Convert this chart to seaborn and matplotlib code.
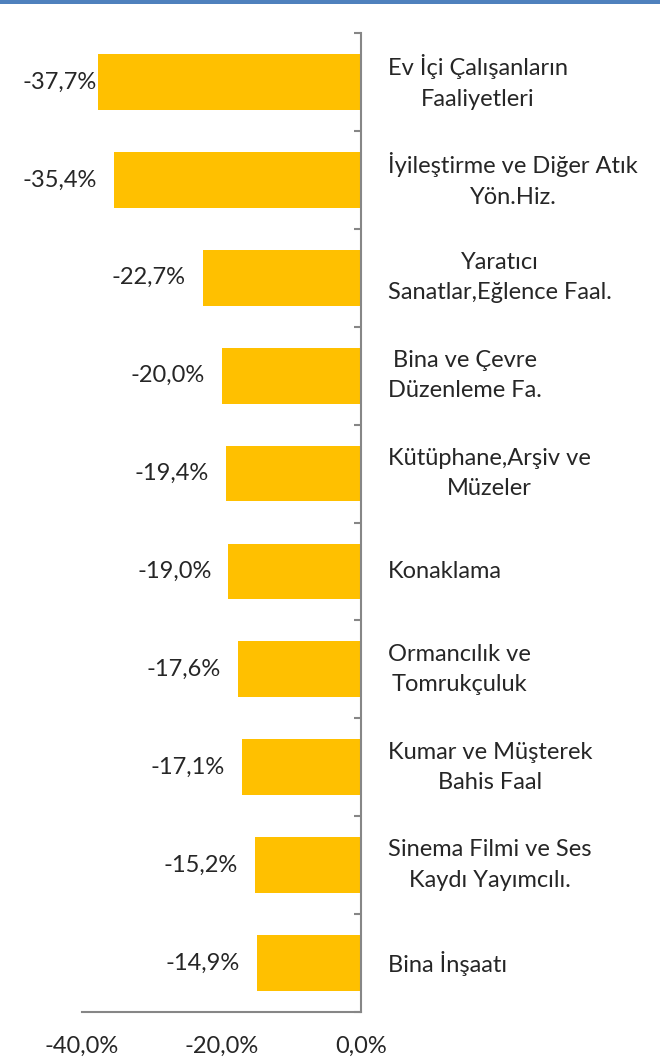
import numpy as np
import pandas as pd
import seaborn as sns
import matplotlib.pyplot as plt
from matplotlib.patches import Rectangle

# Sector names (multi-line as in the original chart) and annual change in %
categories = [
    "Ev İçi Çalışanların\nFaaliyetleri",
    "İyileştirme ve Diğer Atık\nYön.Hiz.",
    "Yaratıcı\nSanatlar,Eğlence Faal.",
    "Bina ve Çevre\nDüzenleme Fa.",
    "Kütüphane,Arşiv ve\nMüzeler",
    "Konaklama",
    "Ormancılık ve\nTomrukçuluk",
    "Kumar ve Müşterek\nBahis Faal",
    "Sinema Filmi ve Ses\nKaydı Yayımcılı.",
    "Bina İnşaatı",
]
values = [-37.7, -35.4, -22.7, -20.0, -19.4, -19.0, -17.6, -17.1, -15.2, -14.9]
xticks = [-40, -20, 0]

BAR = "#FFC000"
AXIS = "#868686"
FONT = 17

sns.set_style("white")
plt.rcParams["font.family"] = ["Lato", "DejaVu Sans"]

df = pd.DataFrame({"sector": categories, "change": values})

fig = plt.figure(figsize=(6.6, 10.61), dpi=100)
W, H = 660, 1061
ax = fig.add_axes([82 / W, (H - 1012) / H, 279 / W, 979 / H])

sns.barplot(data=df, y="sector", x="change", orient="h", color=BAR,
            width=0.57, linewidth=0, saturation=1, ax=ax)

n = len(categories)
ax.set_xlim(-40, 0)
ax.set_ylim(n - 0.5, -0.5)

# spines: only the zero line (right) and the bottom line
for s in ["left", "top"]:
    ax.spines[s].set_visible(False)
for s in ["right", "bottom"]:
    ax.spines[s].set_color(AXIS)
    ax.spines[s].set_linewidth(1.5)

# category boundary ticks on the zero line
ax.yaxis.tick_right()
ax.set_yticks(np.arange(-0.5, n, 1.0))
ax.set_yticklabels([])
ax.tick_params(axis="y", direction="in", length=5, width=1.5, color=AXIS)

ax.set_xticks(xticks)
ax.set_xticklabels([f"{t:.1f}%".replace(".", ",") for t in xticks], fontsize=FONT)
ax.tick_params(axis="x", length=0, pad=17)
ax.set_xlabel("")
ax.set_ylabel("")

# category labels right of the zero line
for i, c in enumerate(categories):
    ax.annotate(c, xy=(1, i), xycoords=("axes fraction", "data"),
                xytext=(19.5, 0), textcoords="offset points",
                ha="left", va="center", multialignment="center",
                fontsize=FONT, linespacing=1.55, annotation_clip=False)

# value labels left of each bar
for i, v in enumerate(values):
    lx = max(v - 2.45, -37.9)
    ax.text(lx, i, f"{v:.1f}%".replace(".", ","), ha="right", va="center",
            fontsize=FONT, clip_on=False)

# thin blue frame line at the top
fig.add_artist(Rectangle((0, 1 - 3.5 / H), 1, 3.5 / H, transform=fig.transFigure,
                         color="#4F81BD", lw=0))

fig.savefig("out.png", dpi=100)
